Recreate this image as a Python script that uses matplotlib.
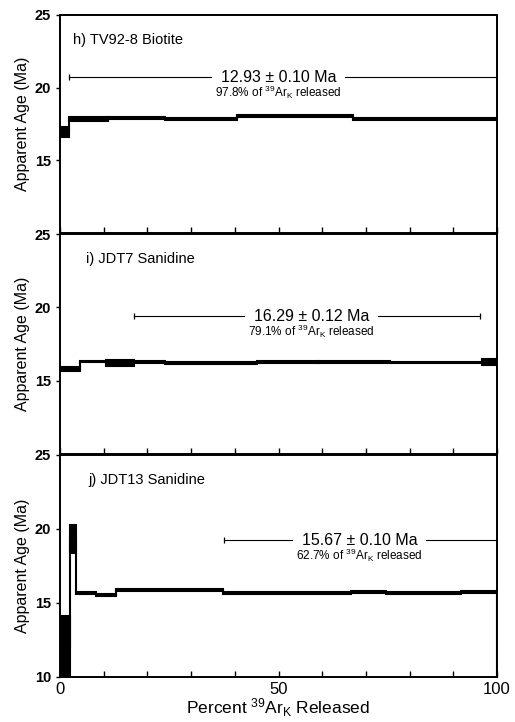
import matplotlib
matplotlib.use("Agg")
import matplotlib.pyplot as plt
from matplotlib.patches import Rectangle

plt.rcParams['font.family'] = ['Liberation Sans', 'DejaVu Sans']
plt.rcParams['mathtext.default'] = 'regular'

# step heating spectra: cumulative % 39ArK boundaries, apparent age, half-height of box
bounds_h = [0, 2, 11, 24, 40.5, 67, 100]
age_h = [16.95, 17.85, 17.9, 17.85, 18.05, 17.85]
err_h = [0.35, 0.14, 0.05, 0.05, 0.05, 0.06]

bounds_i = [0, 4.5, 10.5, 17, 24, 45, 59, 75.5, 96.5, 100]
age_i = [15.8, 16.3, 16.2, 16.25, 16.2, 16.3, 16.28, 16.25, 16.25]
err_i = [0.14, 0.05, 0.22, 0.06, 0.05, 0.07, 0.05, 0.05, 0.2]

bounds_j = [0, 2.3, 3.7, 8.3, 12.9, 37.4, 66.7, 74.5, 91.7, 100]
age_j = [12.0, 19.35, 15.7, 15.55, 15.85, 15.7, 15.75, 15.7, 15.75]
err_j = [2.1, 0.95, 0.06, 0.08, 0.07, 0.06, 0.06, 0.06, 0.05]

labels = ['h) TV92-8 Biotite', 'i) JDT7 Sanidine', 'j) JDT13 Sanidine']
label_x = [3, 6, 6.5]
plateau_txt = ['12.93 \u00b1 0.10 Ma', '16.29 \u00b1 0.12 Ma', '15.67 \u00b1 0.10 Ma']
plateau_pct = ['97.8%', '79.1%', '62.7%']
plateau_x = [(2, 100), (17, 96), (37.6, 100)]
plateau_y = [20.7, 19.4, 19.25]
text_x = [50, 57.5, 68.5]

panels = [(bounds_h, age_h, err_h), (bounds_i, age_i, err_i), (bounds_j, age_j, err_j)]

fig = plt.figure(figsize=(5.15, 7.22), dpi=100)
W, H = 515.0, 722.0
tops = [15, 234, 455]
bots = [233, 454, 677]

for k in range(3):
    ax = fig.add_axes([60 / W, 1 - bots[k] / H, 437 / W, (bots[k] - tops[k]) / H])
    b, a, e = panels[k]
    for n in range(len(a)):
        ax.add_patch(Rectangle((b[n], a[n] - e[n]), b[n + 1] - b[n], 2 * e[n],
                               fc='black', ec='black', lw=1.5, zorder=3))
        if n < len(a) - 1:
            ax.plot([b[n + 1], b[n + 1]], [a[n], a[n + 1]], color='black', lw=1.5, zorder=3)
    if k == 2:
        ax.plot([b[-1], b[-1]], [a[-1], 10], color='black', lw=1.5, zorder=3)

    # plateau bar
    x0, x1 = plateau_x[k]
    y = plateau_y[k]
    ax.plot([x0, x1], [y, y], color='black', lw=0.8, zorder=2)
    ax.plot([x0, x1], [y, y], '|', color='black', ms=5, mew=0.9, zorder=2)
    ax.text(text_x[k], y, '  ' + plateau_txt[k] + '  ', ha='center', va='center', fontsize=11.5,
            bbox=dict(fc='white', ec='none', pad=0), zorder=4)
    ax.text(text_x[k], y - 1.05, plateau_pct[k] + r' of $^{39}$Ar$_{K}$ released',
            ha='center', va='center', fontsize=8.5, zorder=4)

    ax.text(label_x[k], 23.3, labels[k], fontsize=10.5, ha='left', va='center')

    ax.set_xlim(0, 100)
    ax.set_ylim(10, 25)
    ax.set_xticks(range(0, 101, 10))
    ax.tick_params(axis='x', direction='in', length=4, width=1.0)
    ax.tick_params(axis='y', direction='out', length=3, width=1.0, labelsize=10.5)
    if k < 2:
        ax.set_yticks([15, 20, 25])
        ax.set_xticklabels([])
    else:
        ax.set_yticks([10, 15, 20, 25])
        ax.set_xticklabels(['0', '', '', '', '', '50', '', '', '', '', '100'], fontsize=12)
        ax.set_xlabel(r'Percent $^{39}$Ar$_{K}$ Released', fontsize=12.5, labelpad=0)
    for t in ax.get_yticklabels():
        t.set_fontweight('bold')
    ax.set_ylabel('Apparent Age (Ma)', fontsize=11.5, labelpad=3)
    for s in ax.spines.values():
        s.set_linewidth(1.4)

fig.savefig('out.png', dpi=100)
